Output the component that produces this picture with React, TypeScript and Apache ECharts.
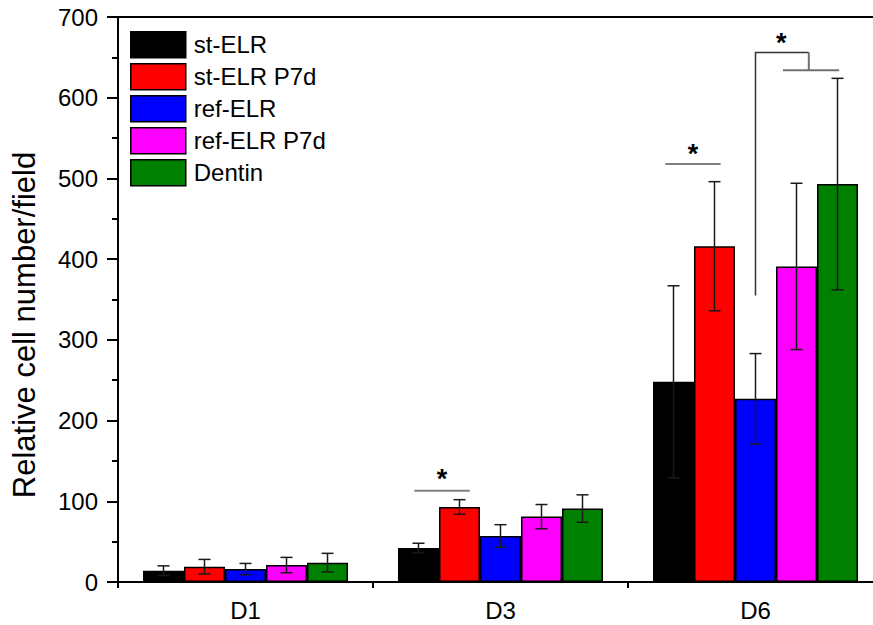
import React, { useEffect, useRef } from "react";
import * as echarts from "echarts";

const categories = ["D1", "D3", "D6"];
const seriesNames = ["st-ELR", "st-ELR P7d", "ref-ELR", "ref-ELR P7d", "Dentin"];
const seriesColors = ["#000000", "#ff0000", "#0000ff", "#ff00ff", "#008000"];

const stELR = [14, 42, 248];
const stELRP7d = [19, 93, 416];
const refELR = [16, 57, 227];
const refELRP7d = [21, 81, 391];
const dentin = [24, 91, 493];

const stELRErr = [6, 6, 119];
const stELRP7dErr = [9, 9, 80];
const refELRErr = [7, 14, 56];
const refELRP7dErr = [9.5, 15, 103];
const dentinErr = [11.5, 17, 131];

const yTicks = [0, 100, 200, 300, 400, 500, 600, 700];

// significance lines: [categoryIndex, fromBarPos, toBarPos, lineY, starY]
const sigLines = [
  [1, -0.1, 1.25, 113, 135],
  [2, -0.2, 1.15, 518, 538],
];
// bracket: [categoryIndex, leftBarPos, leftBottomY, topY, rightBarPos, rightBottomY, hFromPos, hToPos, starPos, starY]
const sigBrackets = [[2, 2.0, 355, 656, 3.3, 634, 2.67, 4.04, 2.63, 675]];

const means = [stELR, stELRP7d, refELR, refELRP7d, dentin];
const errs = [stELRErr, stELRP7dErr, refELRErr, refELRP7dErr, dentinErr];

const GAP = 0.196;
const N = seriesNames.length;
const FONT = "'Liberation Sans', Arial, sans-serif";

export default function App() {
  const ref = useRef<HTMLDivElement>(null);
  useEffect(() => {
    if (!ref.current) return;
    const chart = echarts.init(ref.current, null, { renderer: "svg" });

    const barX = (api: any, cat: number, pos: number, val: number) => {
      const c = api.coord([cat, val]);
      const band = api.size([1, 0])[0];
      const bw = (band * (1 - GAP)) / N;
      return [c[0] + (pos - (N - 1) / 2) * bw, c[1]];
    };

    const errData: number[][] = [];
    means.forEach((m, s) => m.forEach((v, c) => errData.push([c, s, v, errs[s][c]])));

    const barSeries = seriesNames.map((name, s) => ({
      type: "bar",
      name,
      data: means[s],
      barGap: "0%",
      barCategoryGap: GAP * 100 + "%",
      itemStyle: { color: seriesColors[s], borderColor: "#000", borderWidth: 1.5 },
      z: 2,
    }));

    const starStyle = { text: "*", fontSize: 27, fontWeight: "bold", fontFamily: FONT, fill: "#000", align: "center", verticalAlign: "middle" };

    const option: any = {
      animation: false,
      textStyle: { fontFamily: FONT },
      grid: {
        left: 118,
        top: 17,
        width: 765,
        height: 565,
        outerBoundsMode: "none",
        containLabel: false,
        show: true,
        borderColor: "#000",
        borderWidth: 2,
        backgroundColor: "transparent",
      },
      legend: {
        data: seriesNames,
        orient: "vertical",
        left: 130,
        top: 31,
        padding: 0,
        itemWidth: 55,
        itemHeight: 26,
        itemGap: 4.5,
        icon: "rect",
        itemStyle: { borderColor: "#000", borderWidth: 1.5 },
        textStyle: { fontSize: 24, color: "#000", fontFamily: FONT, padding: [0, 0, 0, 3] },
      },
      xAxis: [
        {
          type: "category",
          data: categories,
          position: "bottom",
          axisLine: { lineStyle: { color: "#000", width: 2 } },
          axisTick: { alignWithLabel: true, length: 11, lineStyle: { color: "#000", width: 2 } },
          axisLabel: { fontSize: 24, color: "#000", margin: 16, fontFamily: FONT },
          splitLine: { show: false },
        },
        {
          type: "value",
          min: 0,
          max: 3,
          interval: 1,
          position: "bottom",
          axisLine: { show: false, onZero: false },
          axisTick: { show: true, length: 6, lineStyle: { color: "#000", width: 2 } },
          axisLabel: { show: false },
          splitLine: { show: false },
        },
      ],
      yAxis: {
        type: "value",
        min: 0,
        max: 700,
        interval: 100,
        name: "Relative cell number/field",
        nameLocation: "middle",
        nameGap: 78,
        nameTextStyle: { fontSize: 31, color: "#000", fontFamily: FONT, padding: [0, 51, 0, 0] },
        axisLine: { show: true, lineStyle: { color: "#000", width: 2 } },
        axisTick: { show: true, length: 11, lineStyle: { color: "#000", width: 2 } },
        minorTick: { show: true, splitNumber: 2, length: 6, lineStyle: { color: "#000", width: 2 } },
        axisLabel: {
          fontSize: 24,
          color: "#000",
          margin: 20,
          fontFamily: FONT,
          formatter: (v: number) => (yTicks.includes(v) ? String(v) : ""),
        },
        splitLine: { show: false },
        minorSplitLine: { show: false },
      },
      series: [
        ...barSeries,
        {
          type: "custom",
          name: "errors",
          data: errData,
          z: 5,
          renderItem: (params: any, api: any) => {
            const cat = api.value(0);
            const s = api.value(1);
            const m = api.value(2);
            const e = api.value(3);
            const top = barX(api, cat, s, m + e);
            const bot = barX(api, cat, s, m - e);
            const x = top[0];
            const cap = 6;
            const st = { stroke: "#1a1a1a", lineWidth: 1.5 };
            return {
              type: "group",
              children: [
                { type: "line", shape: { x1: x, y1: top[1], x2: x, y2: bot[1] }, style: st },
                { type: "line", shape: { x1: x - cap, y1: top[1], x2: x + cap, y2: top[1] }, style: st },
                { type: "line", shape: { x1: x - cap, y1: bot[1], x2: x + cap, y2: bot[1] }, style: st },
              ],
            };
          },
        },
        {
          type: "custom",
          name: "sigLines",
          data: sigLines,
          z: 6,
          renderItem: (params: any, api: any) => {
            const cat = api.value(0);
            const a = barX(api, cat, api.value(1), api.value(3));
            const b = barX(api, cat, api.value(2), api.value(3));
            const s = barX(api, cat, (api.value(1) + api.value(2)) / 2, api.value(4));
            return {
              type: "group",
              children: [
                { type: "line", shape: { x1: a[0], y1: a[1], x2: b[0], y2: b[1] }, style: { stroke: "#808080", lineWidth: 2 } },
                { type: "text", x: s[0], y: s[1] + 6, style: starStyle },
              ],
            };
          },
        },
        {
          type: "custom",
          name: "sigBrackets",
          data: sigBrackets,
          z: 6,
          renderItem: (params: any, api: any) => {
            const cat = api.value(0);
            const lb = barX(api, cat, api.value(1), api.value(2));
            const lt = barX(api, cat, api.value(1), api.value(3));
            const rt = barX(api, cat, api.value(4), api.value(3));
            const rb = barX(api, cat, api.value(4), api.value(5));
            const h1 = barX(api, cat, api.value(6), api.value(5));
            const h2 = barX(api, cat, api.value(7), api.value(5));
            const s = barX(api, cat, api.value(8), api.value(9));
            const st = { stroke: "#333", lineWidth: 1.5 };
            const st2 = { stroke: "#707070", lineWidth: 2 };
            return {
              type: "group",
              children: [
                { type: "polyline", shape: { points: [[lb[0], lb[1]], [lt[0], lt[1]], [rt[0], rt[1]]] }, style: { ...st, fill: null } },
                { type: "line", shape: { x1: rt[0], y1: rt[1], x2: rb[0], y2: rb[1] }, style: st2 },
                { type: "line", shape: { x1: h1[0], y1: h1[1], x2: h2[0], y2: h2[1] }, style: st2 },
                { type: "text", x: s[0], y: s[1] + 6, style: starStyle },
              ],
            };
          },
        },
      ],
    };
    chart.setOption(option);
    return () => chart.dispose();
  }, []);
  return <div ref={ref} style={{ width: 873, height: 625, position: "absolute", left: 0, top: 0 }} />;
}
